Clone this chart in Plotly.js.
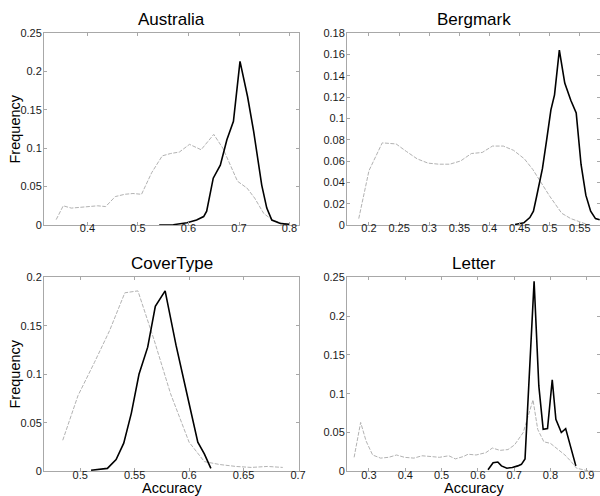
<!DOCTYPE html>
<html>
<head>
<meta charset="utf-8">
<script src="https://cdn.plot.ly/plotly-3.0.1.min.js"></script>
<style>html,body{margin:0;padding:0;background:#fff;}#chart{width:600px;height:496px;}</style>
</head>
<body>
<div id="chart"></div>
<script>
// ---------- DATA ----------
const panelTitles = ["Australia", "Bergmark", "CoverType", "Letter"];
const yAxisTitle = "Frequency";
const xAxisTitle = "Accuracy";

// Australia
const ausGrayX  = [0.338, 0.352, 0.368, 0.386, 0.405, 0.42, 0.436, 0.455, 0.474, 0.49, 0.507, 0.527, 0.548, 0.564, 0.582, 0.602, 0.625, 0.65, 0.668, 0.683, 0.697, 0.716, 0.731, 0.749, 0.767, 0.796];
const ausGrayY  = [0.007, 0.025, 0.022, 0.023, 0.025, 0.025, 0.024, 0.037, 0.040, 0.041, 0.040, 0.068, 0.090, 0.093, 0.095, 0.105, 0.098, 0.118, 0.100, 0.078, 0.057, 0.048, 0.035, 0.015, 0.006, 0.001];
const ausBlackX = [0.542, 0.57, 0.597, 0.616, 0.63, 0.636, 0.649, 0.663, 0.676, 0.689, 0.702, 0.717, 0.729, 0.745, 0.755, 0.765, 0.782, 0.8];
const ausBlackY = [0.0, 0.0004, 0.003, 0.0065, 0.011, 0.018, 0.061, 0.078, 0.111, 0.135, 0.213, 0.167, 0.122, 0.052, 0.022, 0.0065, 0.002, 0.0009];

// Bergmark
const berGrayX  = [0.183, 0.2, 0.222, 0.245, 0.262, 0.28, 0.298, 0.316, 0.334, 0.352, 0.37, 0.388, 0.405, 0.423, 0.44, 0.458, 0.472, 0.486, 0.5, 0.52, 0.535, 0.55, 0.565];
const berGrayY  = [0.006, 0.051, 0.077, 0.076, 0.069, 0.062, 0.058, 0.057, 0.057, 0.060, 0.067, 0.068, 0.074, 0.074, 0.070, 0.062, 0.052, 0.039, 0.027, 0.011, 0.006, 0.003, 0.0];
const berBlackX = [0.4425, 0.457, 0.467, 0.473, 0.478, 0.483, 0.488, 0.495, 0.502, 0.508, 0.516, 0.525, 0.535, 0.544, 0.552, 0.56, 0.568, 0.576, 0.583];
const berBlackY = [0.0005, 0.002, 0.007, 0.013, 0.026, 0.039, 0.053, 0.080, 0.108, 0.122, 0.164, 0.133, 0.117, 0.105, 0.057, 0.028, 0.013, 0.006, 0.005];

// CoverType
const covGrayX  = [0.484, 0.498, 0.513, 0.527, 0.541, 0.553, 0.568, 0.583, 0.6, 0.614, 0.628, 0.643, 0.657, 0.672, 0.686];
const covGrayY  = [0.032, 0.078, 0.112, 0.145, 0.184, 0.186, 0.135, 0.080, 0.030, 0.010, 0.007, 0.005, 0.004, 0.005, 0.004];
const covBlackX = [0.51, 0.525, 0.533, 0.54, 0.547, 0.554, 0.562, 0.569, 0.578, 0.588, 0.598, 0.608, 0.614, 0.62];
const covBlackY = [0.001, 0.003, 0.012, 0.029, 0.060, 0.100, 0.128, 0.170, 0.186, 0.130, 0.080, 0.030, 0.018, 0.003];

// Letter
const letGrayX  = [0.259, 0.277, 0.292, 0.31, 0.332, 0.354, 0.376, 0.398, 0.424, 0.446, 0.472, 0.494, 0.52, 0.538, 0.56, 0.573, 0.595, 0.622, 0.64, 0.661, 0.683, 0.701, 0.725, 0.752, 0.765, 0.782, 0.8, 0.82, 0.84, 0.858, 0.872, 0.9, 0.925];
const letGrayY  = [0.018, 0.063, 0.039, 0.021, 0.017, 0.018, 0.021, 0.018, 0.017, 0.020, 0.019, 0.018, 0.020, 0.016, 0.019, 0.022, 0.021, 0.024, 0.030, 0.027, 0.028, 0.034, 0.050, 0.092, 0.054, 0.038, 0.036, 0.028, 0.021, 0.012, 0.004, 0.001, 0.0];
const letBlackX = [0.628, 0.642, 0.655, 0.665, 0.68, 0.695, 0.71, 0.72, 0.73, 0.745, 0.755, 0.768, 0.78, 0.792, 0.805, 0.815, 0.83, 0.842, 0.87];
const letBlackY = [0.002, 0.011, 0.012, 0.007, 0.004, 0.005, 0.007, 0.009, 0.016, 0.150, 0.245, 0.110, 0.054, 0.055, 0.118, 0.067, 0.050, 0.055, 0.007];

// Tick values / labels
const ausXTicks = [0.4, 0.5, 0.6, 0.7, 0.8];
const ausXLabels = ["0.4", "0.5", "0.6", "0.7", "0.8"];
const ausYTicks = [0, 0.05, 0.1, 0.15, 0.2, 0.25];
const ausYLabels = ["0", "0.05", "0.1", "0.15", "0.2", "0.25"];
const berXTicks = [0.2, 0.25, 0.3, 0.35, 0.4, 0.45, 0.5, 0.55];
const berXLabels = ["0.2", "0.25", "0.3", "0.35", "0.4", "0.45", "0.5", "0.55"];
const berYTicks = [0, 0.02, 0.04, 0.06, 0.08, 0.1, 0.12, 0.14, 0.16, 0.18];
const berYLabels = ["0", "0.02", "0.04", "0.06", "0.08", "0.1", "0.12", "0.14", "0.16", "0.18"];
const covXTicks = [0.5, 0.55, 0.6, 0.65, 0.7];
const covXLabels = ["0.5", "0.55", "0.6", "0.65", "0.7"];
const covYTicks = [0, 0.05, 0.1, 0.15, 0.2];
const covYLabels = ["0", "0.05", "0.1", "0.15", "0.2"];
const letXTicks = [0.3, 0.4, 0.5, 0.6, 0.7, 0.8, 0.9];
const letXLabels = ["0.3", "0.4", "0.5", "0.6", "0.7", "0.8", "0.9"];
const letYTicks = [0, 0.05, 0.1, 0.15, 0.2, 0.25];
const letYLabels = ["0", "0.05", "0.1", "0.15", "0.2", "0.25"];

// ---------- STYLE ----------
const W = 600, H = 496;
const grayLine = {color: '#b2b2b2', width: 1, dash: '4px,1.5px'};
const blackLine = {color: '#000000', width: 1.6};

function gray(x, y, xa, ya) { return {x: x, y: y, xaxis: xa, yaxis: ya, type: 'scatter', mode: 'lines', line: grayLine, hoverinfo: 'skip'}; }
function black(x, y, xa, ya) { return {x: x, y: y, xaxis: xa, yaxis: ya, type: 'scatter', mode: 'lines', line: blackLine, hoverinfo: 'skip'}; }

const data = [
  gray(ausGrayX, ausGrayY, 'x', 'y'), black(ausBlackX, ausBlackY, 'x', 'y'),
  gray(berGrayX, berGrayY, 'x2', 'y2'), black(berBlackX, berBlackY, 'x2', 'y2'),
  gray(covGrayX, covGrayY, 'x3', 'y3'), black(covBlackX, covBlackY, 'x3', 'y3'),
  gray(letGrayX, letGrayY, 'x4', 'y4'), black(letBlackX, letBlackY, 'x4', 'y4')
];

const common = {
  showline: true, linecolor: '#a8a8a8', linewidth: 1, mirror: 'ticks',
  ticks: 'inside', ticklen: 3, tickcolor: '#a8a8a8', tickwidth: 1,
  showgrid: false, zeroline: false, fixedrange: true,
  tickfont: {size: 11, color: '#1a1a1a', family: 'Liberation Sans, Arial, sans-serif'}
};
const xCommon = Object.assign({}, common, {ticklabelstandoff: -7});
const yCommon = Object.assign({}, common, {ticklabelstandoff: -1});

function px(a) { return a / W; }
function py(b) { return 1 - b / H; }

const colL = [px(44), px(299)], colR = [px(347), px(600)];
const rowT = [py(225), py(33)], rowB = [py(471.3), py(277.3)];

const layout = {
  width: W, height: H,
  margin: {l: 0, r: 0, t: 0, b: 0},
  paper_bgcolor: '#ffffff', plot_bgcolor: '#ffffff',
  showlegend: false,
  font: {family: 'Liberation Sans, Arial, sans-serif', size: 11, color: '#1a1a1a'},
  xaxis:  Object.assign({}, xCommon, {domain: colL, anchor: 'y',  range: [0.3139, 0.8188], tickvals: ausXTicks, ticktext: ausXLabels}),
  yaxis:  Object.assign({}, yCommon, {domain: rowT, anchor: 'x',  range: [0, 0.25], tickvals: ausYTicks, ticktext: ausYLabels}),
  xaxis2: Object.assign({}, xCommon, {domain: colR, anchor: 'y2', range: [0.1635, 0.5835], tickvals: berXTicks, ticktext: berXLabels}),
  yaxis2: Object.assign({}, yCommon, {domain: rowT, anchor: 'x2', range: [0, 0.18], tickvals: berYTicks, ticktext: berYLabels}),
  xaxis3: Object.assign({}, xCommon, {domain: colL, anchor: 'y3', range: [0.4668, 0.7009], tickvals: covXTicks, ticktext: covXLabels}),
  yaxis3: Object.assign({}, yCommon, {domain: rowB, anchor: 'x3', range: [0, 0.2], tickvals: covYTicks, ticktext: covYLabels}),
  xaxis4: Object.assign({}, xCommon, {domain: colR, anchor: 'y4', range: [0.2394, 0.9366], tickvals: letXTicks, ticktext: letXLabels}),
  yaxis4: Object.assign({}, yCommon, {domain: rowB, anchor: 'x4', range: [0, 0.25], tickvals: letYTicks, ticktext: letYLabels}),
  annotations: []
};

const titleFont = {size: 17, color: '#000000', family: 'Liberation Sans, Arial, sans-serif'};
const axFont = {size: 14.5, color: '#000000', family: 'Liberation Sans, Arial, sans-serif'};
const titlePos = [[171.5, 19], [473.5, 19], [171.5, 263.5], [473.5, 263.5]];
panelTitles.forEach(function (t, i) {
  layout.annotations.push({text: t, xref: 'paper', yref: 'paper', x: px(titlePos[i][0]), y: py(titlePos[i][1]),
    xanchor: 'center', yanchor: 'middle', showarrow: false, font: titleFont});
});
[129, 374].forEach(function (yc) {
  layout.annotations.push({text: yAxisTitle, xref: 'paper', yref: 'paper', x: px(14.5), y: py(yc),
    xanchor: 'center', yanchor: 'middle', textangle: -90, showarrow: false, font: axFont});
});
[171.5, 473.5].forEach(function (xc) {
  layout.annotations.push({text: xAxisTitle, xref: 'paper', yref: 'paper', x: px(xc), y: py(488),
    xanchor: 'center', yanchor: 'middle', showarrow: false, font: axFont});
});

Plotly.newPlot('chart', data, layout, {staticPlot: true, displayModeBar: false});
</script>
</body>
</html>
